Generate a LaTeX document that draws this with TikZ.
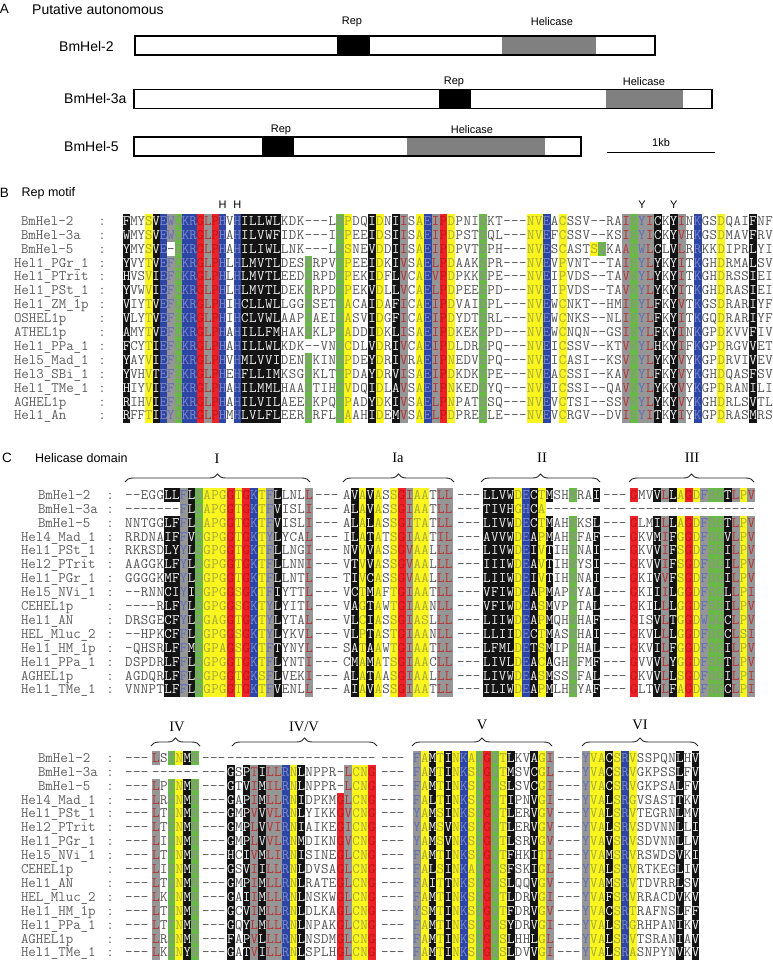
\documentclass[tikz,border=0pt]{standalone}
\usepackage{fontspec}
\setmainfont{Liberation Sans}
\newfontfamily\serf{Liberation Serif}
\usetikzlibrary{decorations.pathreplacing}

\definecolor{bgK}{RGB}{20,20,20}
\definecolor{bgY}{RGB}{250,245,30}
\definecolor{bgB}{RGB}{45,70,165}
\definecolor{bgG}{RGB}{150,150,150}
\definecolor{bgN}{RGB}{105,185,70}
\definecolor{bgR}{RGB}{235,35,40}
\definecolor{fgK}{RGB}{240,240,240}
\definecolor{fgY}{RGB}{165,170,55}
\definecolor{fgB}{RGB}{125,135,200}
\definecolor{fgN}{RGB}{150,140,150}
\definecolor{fgR}{RGB}{195,20,25}
\definecolor{fgGa}{RGB}{185,50,50}
\definecolor{fgGr}{RGB}{95,110,185}
\definecolor{fgGo}{RGB}{185,60,60}
\definecolor{fgW}{RGB}{85,85,85}
\definecolor{namec}{RGB}{95,95,95}
\definecolor{hgray}{RGB}{128,128,128}

\newlength\cw \setlength\cw{7.83pt}
\newlength\cht \setlength\cht{11.25pt}
\newlength\cdp \setlength\cdp{2.65pt}
\newcommand\seqfont{\ttfamily\fontsize{14.5pt}{14.5pt}\selectfont}

\makeatletter
\def\alrow#1#2{\expandafter\xalrow#1\relax#2\relax}
\def\xalrow#1#2\relax#3#4\relax{%
  \acell#1#3%
  \ifx\relax#2\relax\expandafter\@gobble\else\expandafter\@firstofone\fi
  {\xalrow#2\relax#4\relax}}
\makeatother
\def\acell#1#2{%
  \def\fgc{fgW}%
  \if#1K\def\fgc{fgK}\fi
  \if#1Y\def\fgc{fgY}\fi
  \if#1B\def\fgc{fgB}\fi
  \if#1N\def\fgc{fgN}\fi
  \if#1R\def\fgc{fgR}\fi
  \if#1G\def\fgc{fgGo}%
    \ifnum0\if#2I1\fi\if#2L1\fi\if#2V1\fi\if#2M1\fi>0 \def\fgc{fgGa}\fi
    \ifnum0\if#2F1\fi\if#2Y1\fi\if#2W1\fi>0 \def\fgc{fgGr}\fi
  \fi
  \hbox to\cw{%
    \if#2-\def\fgc{fgW}\else\if#1.\else\rlap{\color{bg#1}\vrule width\cw height\cht depth\cdp}\fi\fi
    \hss\textcolor{\fgc}{#2}\hss}}

\def\specBa{K..YKBGNBB RGRB.B}
\def\specB{KKKK K...N...NY ..KY.KG.YB GRY...N... ..YYB.Y... ....GNGGK. KG.B..Y... K..}
\def\specBiii{KKKK K...N...NY ..KY.KG.YB GRY...N... ..YYB.Y... YN..GNGGK. KG.B..Y... K..}
\def\specCa{..... KKGKN YYYRY RBYGK ...G}
\def\specCb{.KYKY .YRGY Y.GG}
\def\specCc{KKKKY BKYK. .N..K}
\def\specCd{R..KG KYRYG NNKGY G}
\def\specDa{G.NYKN}
\def\specDb{K.KGK GGBYK ....R GYYR}
\def\specDc{GYKYK YBYNR NYK.. KYG}
\def\specDd{GYYKY BY... ..K.K}
\def\specSep{...}

\newcommand\Brow[6]{%
  \pgfmathsetmacro\yy{225.3+(#1-1)*13.9}
  \node[namest] (bn#1) at (#3,\yy) {#2};
  \node[colst] (bc#1) at (102,\yy) {:};
  \node[seqst] (bs#1) at (123,\yy) {\setlength\cw{7.375pt}\alrow\specBa{#5}};
  \node[seqst] (bt#1) at (241,\yy) {\setlength\cw{7.94pt}\alrow#4{#6}};}

\newcommand\Crow[7]{%
  \pgfmathsetmacro\yy{499.3+(#1-1)*13.9}
  \node[namest] (cn#1) at (#3,\yy) {#2};
  \node[colst] (cc#1) at (110,\yy) {:};
  \node[seqst] (ca#1) at (125,\yy) {\alrow\specCa{#4}};
  \node[seqst] (csa#1) at (315,\yy) {\alrow\specSep{---}};
  \node[seqst] (cb#1) at (343,\yy) {\alrow\specCb{#5}};
  \node[seqst] (csb#1) at (457,\yy) {\alrow\specSep{---}};
  \node[seqst] (cx#1) at (483,\yy) {\alrow\specCc{#6}};
  \node[seqst] (csc#1) at (603,\yy) {\alrow\specSep{---}};
  \node[seqst] (cd#1) at (630,\yy) {\alrow\specCd{#7}};}

\newcommand\Drow[7]{%
  \pgfmathsetmacro\yy{762.3+(#1-1)*13.9}
  \node[namest] (dn#1) at (#3,\yy) {#2};
  \node[colst] (dc#1) at (110,\yy) {:};
  \node[seqst] (dsa#1) at (125,\yy) {\alrow\specSep{---}};
  \node[seqst] (da#1) at (152,\yy) {\alrow\specDa{#4}};
  \node[seqst] (dsb#1) at (202,\yy) {\alrow\specSep{---}};
  \node[seqst] (db#1) at (227,\yy) {\alrow\specDb{#5}};
  \node[seqst] (dsc#1) at (381,\yy) {\alrow\specSep{---}};
  \node[seqst] (dx#1) at (413,\yy) {\alrow\specDc{#6}};
  \node[seqst] (dsd#1) at (557,\yy) {\alrow\specSep{---}};
  \node[seqst] (dd#1) at (582,\yy) {\alrow\specDd{#7}};}

\begin{document}
\begin{tikzpicture}[x=1pt,y=-1pt,
  namest/.style={anchor=base west, inner sep=0pt, outer sep=0pt, font=\seqfont, text=namec},
  colst/.style={anchor=base, inner sep=0pt, outer sep=0pt, font=\seqfont, text=namec},
  seqst/.style={anchor=base west, inner sep=0pt, outer sep=0pt, font=\seqfont},
  ttl/.style={anchor=west, inner sep=0pt, font=\fontsize{12.5pt}{12.5pt}\selectfont},
  panellab/.style={anchor=center, inner sep=0pt, font=\fontsize{13.5pt}{13.5pt}\selectfont},
  hmark/.style={anchor=center, inner sep=0pt, font=\fontsize{11pt}{11pt}\selectfont},
  blab/.style={anchor=center, inner sep=0pt, font=\serf\fontsize{14.5pt}{14.5pt}\selectfont},
  brc/.style={decorate, decoration={brace, amplitude=8pt}, line width=0.9pt, draw=black!85},
  gbox/.style={draw=black, line width=1.6pt},
  dlab/.style={anchor=center, inner sep=0pt, font=\fontsize{11pt}{11pt}\selectfont},
  gname/.style={anchor=west, inner sep=0pt, font=\fontsize{14pt}{14pt}\selectfont},
]
\useasboundingbox (0,0) rectangle (773,962);
\fill[white] (0,0) rectangle (773,962);

% ---------------- Panel A
\node[panellab] (pA) at (4.5,9) {A};
\node[ttl, font=\fontsize{14pt}{14pt}\selectfont] (tA) at (32,9) {Putative autonomous};

\node[gname] (g2) at (59,46.5) {BmHel-2};
\fill[black] (337,36) rectangle (370,55);
\fill[hgray] (502,36) rectangle (596,55);
\draw[gbox] (135,36) rectangle (655,55);
\node[dlab] (r2) at (352,22) {Rep};
\node[dlab] (h2) at (552,22) {Helicase};

\node[gname] (g3) at (64,98.5) {BmHel-3a};
\fill[black] (439,89.3) rectangle (471,108.3);
\fill[hgray] (606,89.3) rectangle (683,108.3);
\draw[gbox] (134,89.3) rectangle (712,108.3);
\node[dlab] (r3) at (454,82) {Rep};
\node[dlab] (h3) at (644,82) {Helicase};

\node[gname] (g5) at (64,146.5) {BmHel-5};
\fill[black] (262,136.7) rectangle (294,156);
\fill[hgray] (407,136.7) rectangle (545,156);
\draw[gbox] (134,136.7) rectangle (581,156);
\node[dlab] (r5) at (281,130) {Rep};
\node[dlab] (h5) at (472,130) {Helicase};

\coordinate (sbl) at (607,152.7);
\coordinate (sbr) at (715,152.7);
\draw[line width=1.5pt] (sbl) -- (sbr);
\node[dlab] (kb) at (661,143) {1kb};

% ---------------- Panel B
\node[panellab] (pB) at (4.5,193) {B};
\node[ttl] (tB) at (21.5,193) {Rep motif};
\node[hmark] (mh1) at (222.6,205) {H};
\node[hmark] (mh2) at (237.3,205) {H};
\node[hmark] (my1) at (642,205) {Y};
\node[hmark] (my2) at (673.7,205) {Y};

\Brow{1}{BmHel-2}{21}{\specB}{FMYSVEWQKR GLPHVH}{ILLW LKDK---LRP DQIDNIISAE IPDPNIDKT- --NVEACSSV --RAIKYICK YINKGSDQAI FNF}
\Brow{2}{BmHel-3a}{21}{\specB}{WMYSVEWQKR GLPHAH}{ILVW FIDK---IRP EEIDSIISAE IPDPSTDQL- --NVEFCSSV --KSIKYICK YVHKGSDMAV FRV}
\Brow{3}{BmHel-5}{21}{\specBiii}{YMYSVE-QKR GLPHAH}{ILIW LLNK---LHS NEVDDIISAE IPDPVTDPH- --NVESCAST SQKAATWLCL VLRRKKDIPR LYI}
\Brow{4}{Hel1\_PGr\_1}{14}{\specB}{YVYTVEFQKR GLPHLH}{LMVT LDESDRPVTP EEIDKIVSAE LPDAAKSPR- --NVEVPVNT --TAIKYLYK YITKGHDRMA LSV}
\Brow{5}{Hel1\_PTrit}{14}{\specB}{HVSVIEFQKR GLPHLH}{LMVT LEEDDRPDTP EKIDFLVCAE VPDPKKEPE- --NVEIPVDS --TAVKYLYK YITKGHDRSS IEI}
\Brow{6}{Hel1\_PSt\_1}{14}{\specB}{YVWVIEFQKR GLPHLH}{LMVT LDEKDRPDTP EKVDLLVCAE LPDPEEEPD- --NVEIPVDS --TAVKYLYK YITKGHDRAS IEI}
\Brow{7}{Hel1\_ZM\_1p}{14}{\specB}{VIYTVEFQKR GLPHIH}{CLLW LLGGRSETDA CAIDAFICAE IPDVAIDPL- --NVEWCNKT --HMIKYLFK YVTKGSDRAR IYF}
\Brow{8}{OSHEL1p}{14}{\specB}{VLYTVEFQKR GLPHIH}{CLVW LAAPTAEISA SVIDGFICAE IPDYDTDRL- --NVEWCNKS --NLIKYLFK YITKGQDRAR IYF}
\Brow{9}{ATHEL1p}{14}{\specB}{AMYTVEFQKR GLPHAH}{ILLF MHAKSKLPTA DDIDKLISAE IPDKEKEPD- --NVEWCNQN --GSIKYLFK YINKGPDKVV FIV}
\Brow{10}{Hel1\_PPa\_1}{14}{\specB}{FCYTIEFQKR GLPHAH}{ILLW LKDK--VNDC DLVDRIVCAE IPDLDRQPQ- --NVEICSSV --KTVKYLHK YIFKGPDRGV VET}
\Brow{11}{Hel5\_Mad\_1}{14}{\specB}{YAYVIEFQKR GLPHVH}{MLVV IDENDKINNP DEYDRIVRAE IPNEDVEPQ- --NVEICASI --KSVKYLYK YVYKGPDRVI VEV}
\Brow{12}{Hel3\_SBi\_1}{14}{\specB}{YVHVTEFQKR GLPHEH}{FLLI MKSGSKLTTP DAYDRVISAE IPDKDKYPE- --NVEACSSI --KAVKYLFK YVYKGHDQAS FSV}
\Brow{13}{Hel1\_TMe\_1}{14}{\specB}{HIYVIEFQKR GLPHAH}{ILMM LHAADTIHTV DQIDLAVSAE IPNKEDDYQ- --NVEICSSI --QAVKYLYK YVYKGPDRAN ILI}
\Brow{14}{AGHEL1p}{14}{\specB}{RIHVIEFQKR GLPHAH}{ILVI LAEEDKPQTP ADYDKIVSAE LPNPATSSQ- --NVEVCTSI --SSVKYLYK YVYKGHDRLS VTL}
\Brow{15}{Hel1\_An}{14}{\specB}{RFFTIEYQKR GLPHMH}{LVLF LEERERFLDA AHIDEMVSAE LPDPREDLE- --NVEVCRGV --DVIKYITK YIYKGPDRAS MRS}

% ---------------- Panel C, block 1
\node[panellab] (pC) at (7,458) {C};
\node[ttl] (tC) at (35,458) {Helicase domain};
\node[blab] (lI) at (217,459) {I};
\node[blab] (lIa) at (398,458) {Ia};
\node[blab] (lII) at (542,458) {II};
\node[blab] (lIII) at (692,458) {III};
\draw[brc] (125,482) -- (310,482);
\draw[brc] (343,482) -- (454,482);
\draw[brc] (481,482) -- (600,482);
\draw[brc] (629,482) -- (754,482);

\Crow{1}{BmHel-2}{38}{--EGGLLFLDAPGGTGKTFLLNLL}{AVAVASSGIAATLL}{LLVWDECTMSHKRAI}{GMVVLLAGDFRQTLPV}
\Crow{2}{BmHel-3a}{38}{-------FLDAPGGTGKTFVISLI}{ALAVASSGIAATLL}{TIVHGHCA-------}{----------------}
\Crow{3}{BmHel-5}{38}{NNTGGLFFLDAPGGTGKTFVISLI}{ALALASSGITATLL}{LIVWDECTMAHKKSL}{GLMILLAGDFRQTLPV}
\Crow{4}{Hel4\_Mad\_1}{21}{RRDNAIFFVDGPGGTGKTYLYCAL}{ILATATSGIAATIL}{AVVWDEAPMAHRFAF}{GKVMIFGGDFRQVLPV}
\Crow{5}{Hel1\_PSt\_1}{21}{RKRSDLYYLDGPGGTGKTFLLNGI}{NVVVASSGVAALLL}{LIVWDEIVTIHKNAI}{GKVVIFSGDFRQILPV}
\Crow{6}{Hel2\_PTrit}{21}{AAGGKLFYLDGPGGTGKTFLLNNI}{VTVVASSGVAALLL}{IIIWDEAVTIHRYSI}{GKVVIFSGDFRQILPV}
\Crow{7}{Hel1\_PGr\_1}{21}{GGGGKMFYLDGPGGTGKTFLLNTL}{TIVCASSGVAALLL}{LIIWDEIVTIHKNAI}{GKIVVFSGDFRQILPV}
\Crow{8}{Hel5\_NVi\_1}{21}{--RNNCIYIDGPGGSGKTFIYTTL}{VCTMAFTGIAATLL}{VFIWDEAPMAPRYAL}{GKIIILGGDFRQLLPI}
\Crow{9}{CEHEL1p}{21}{----RLFYLDGPGGSGKTYLYITL}{VAGTAWTGIAANLL}{VFIWDEASMVPKTAL}{GKILLLGGDFRQILPV}
\Crow{10}{Hel1\_AN}{21}{DRSGECFYLQGAGGTGKTYLYTAL}{VLCIASSGIASLLL}{LIIWDEAPMQHRHAF}{GISVLTGGDWQQCLPV}
\Crow{11}{HEL\_Mluc\_2}{21}{--HPKCFFLDGPGGSGKTYLYKVL}{VLPTASTGIAANLL}{LLIIDECTMASSHAI}{GKVLLLGGDFRQCLSI}
\Crow{12}{Hel1\_HM\_1p}{21}{-QHSRLFFMDGPAGSGKTFTYNYL}{SATAAWTGIAATLL}{LFMLDETSMIPKHAL}{GKVILFGGDFRQILPV}
\Crow{13}{Hel1\_PPa\_1}{21}{DSPDRLFFLDGPGGTGKTFLYNTI}{CMAMATSGIAACLL}{LIVLDEACAGHRFMF}{GVVVLYGGDFRQTLPV}
\Crow{14}{AGHEL1p}{21}{AGDQRLFFLDGPGGTGKSFLVEKI}{ALATAASGIAALLL}{LIVWDEASMSSRFAL}{GKVVLLSGDFRQILPI}
\Crow{15}{Hel1\_TMe\_1}{21}{VNNPTLFFLDGPGGTGKTFVENLL}{AIAVASSGIAATLL}{ILIWDEAPMLHRYAF}{GLTVLFAGDFRQCLPI}

% ---------------- Panel C, block 2
\node[blab] (lIV) at (177,727) {IV};
\node[blab] (lIVV) at (304,727) {IV/V};
\node[blab] (lV) at (482,725) {V};
\node[blab] (lVI) at (640,725) {VI};
\draw[brc] (151,746) -- (200,746);
\draw[brc] (232,746) -- (377,746);
\draw[brc] (412,746) -- (552,746);
\draw[brc] (582,746) -- (698,746);

\Drow{1}{BmHel-2}{38}{LSTNMR}{-------------------}{FAMTINKAQGQTLKVAGI}{YVACSRVSSPQNLHV}
\Drow{2}{BmHel-3a}{38}{------}{GSPTILLRNLNPPR-LCNG}{FAMTINKSQGQTMSVCGL}{YVACSRVGKPSSLFV}
\Drow{3}{BmHel-5}{38}{LPTNMS}{GTVIMILRNLNPPR-LCNG}{FAMTINKSQGQSLSVCGI}{YVACSRVGKPSALFV}
\Drow{4}{Hel4\_Mad\_1}{21}{LRHNMR}{GAPIMLLRNIDPKMGLCNG}{FALTINKSQGQTIPNVGI}{YVALSRGVSASTTKV}
\Drow{5}{Hel1\_PSt\_1}{21}{LTQNMR}{GMPVVVLRNLYIKKGVCNG}{YAMSINKSQGQTLERVGV}{YVALSRVTEGRNLMV}
\Drow{6}{Hel2\_PTrit}{21}{LTENMR}{GMPLVVIRNIAIKEGICNG}{YAMSVNKSQGQTLERVGV}{YVALSRVSDVNNLLI}
\Drow{7}{Hel1\_PGr\_1}{21}{LIDNMR}{GMPLVVLRNMDIKNGVCNG}{YAMSVNKSQGQTLSRVGV}{YVAVSRVSDVNNLLV}
\Drow{8}{Hel5\_NVi\_1}{21}{LTTNMR}{HCIVMLIRNISINEGLCNG}{FAMTINKSQGQTFHKITI}{YVAMSRVRSWDSVKI}
\Drow{9}{CEHEL1p}{21}{LISNMR}{GSVIILLRNLDVSAGLCNG}{FALSINKAQGQSFSKIGL}{YVALSRVRTKEGLIV}
\Drow{10}{Hel1\_AN}{21}{LTQNMR}{GMPIMLLRNLRATEGLCNG}{FAITTNKSQGQSLQQVGV}{YVAMSRVTDVRRLSV}
\Drow{11}{HEL\_Mluc\_2}{21}{LKTNMR}{GAIIMLLRNLNSKWGLCNG}{FAMTINKSQGQTLDRVGI}{YVAFSRVRRACDVKV}
\Drow{12}{Hel1\_HM\_1p}{21}{LTENMR}{GCVIMLLRNLDLKAGLCNG}{YSMTINKSQGQTFDRVGV}{YVACSRTRAFNSLFF}
\Drow{13}{Hel1\_PPa\_1}{21}{LTTNMR}{GQYLMLLRNLNPAKGLCNG}{FAMTINKSQGQSYDRVGI}{YVALSRGRHPANIKV}
\Drow{14}{AGHEL1p}{21}{LRDNMR}{FAPVLLLRNLNSDMGLCNG}{FAMTINKSQGQSLHHLGL}{YVALSRVTSRANIAV}
\Drow{15}{Hel1\_TMe\_1}{21}{LKENYR}{GATVILLRNLSPLHGLCNG}{FAMTINKSQGQSLDVVGI}{YVALSRASNPYNVKV}

\end{tikzpicture}
\end{document}
